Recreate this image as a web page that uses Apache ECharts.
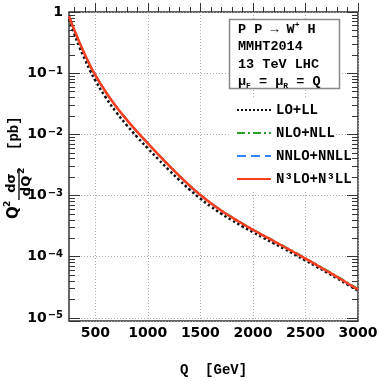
<!DOCTYPE html>
<html lang="en">
<head>
<meta charset="UTF-8">
<title>W+H invariant mass distribution</title>
<script src="https://cdn.jsdelivr.net/npm/echarts@6/dist/echarts.min.js"></script>
<style>
  html, body { margin: 0; padding: 0; background: #fff; }
  #main { width: 382px; height: 382px; }
</style>
</head>
<body>
<div id="main"></div>
<script>
// Q [GeV]
var qValues = [250, 300, 350, 400, 450, 500, 600, 700, 800, 900, 1000, 1100, 1200, 1300, 1400, 1500,
               1600, 1700, 1800, 1900, 2000, 2100, 2200, 2300, 2400, 2500, 2600, 2700, 2800, 2900, 3000];
// Q^2 dsigma/dQ^2 [pb]
var loLL = [0.758, 0.439, 0.266, 0.169, 0.111, 0.0762, 0.0401, 0.0230, 0.01412, 0.00901, 0.00590,
            0.00391, 0.00262, 0.001785, 0.001242, 0.000890, 6.59e-4, 5.04e-4, 3.95e-4, 3.13e-4, 2.52e-4,
            2.03e-4, 1.651e-4, 1.337e-4, 1.080e-4, 8.70e-5, 6.97e-5, 5.57e-5, 4.44e-5, 3.52e-5, 2.77e-5];
var nloNLL = [0.849, 0.509, 0.316, 0.203, 0.135, 0.0934, 0.0494, 0.0284, 0.01733, 0.01100, 0.00715,
              0.00470, 0.00313, 0.002112, 0.001455, 0.001032, 7.56e-4, 5.73e-4, 4.45e-4, 3.51e-4, 2.80e-4,
              2.25e-4, 1.82e-4, 1.468e-4, 1.182e-4, 9.49e-5, 7.58e-5, 6.03e-5, 4.79e-5, 3.78e-5, 2.97e-5];
var nnloNNLL = [0.852, 0.511, 0.316, 0.203, 0.135, 0.0932, 0.0492, 0.0283, 0.01725, 0.01093, 0.00710,
                0.00467, 0.00310, 0.002090, 0.001438, 0.001018, 7.45e-4, 5.64e-4, 4.37e-4, 3.45e-4, 2.75e-4,
                2.21e-4, 1.784e-4, 1.438e-4, 1.157e-4, 9.27e-5, 7.40e-5, 5.88e-5, 4.66e-5, 3.68e-5, 2.89e-5];
var n3loN3LL = [0.851, 0.510, 0.316, 0.203, 0.135, 0.0933, 0.0493, 0.0283, 0.01728, 0.01096, 0.00712,
                0.00468, 0.00311, 0.002097, 0.001443, 0.001022, 7.48e-4, 5.66e-4, 4.39e-4, 3.46e-4, 2.76e-4,
                2.215e-4, 1.789e-4, 1.442e-4, 1.160e-4, 9.30e-5, 7.42e-5, 5.90e-5, 4.68e-5, 3.69e-5, 2.90e-5];

var seriesNames = ['LO+LL', 'NLO+NLL', 'NNLO+NNLL', 'N³LO+N³LL'];
var xMajor = [500, 1000, 1500, 2000, 2500, 3000];
var xMinor = [300, 400, 600, 700, 800, 900, 1100, 1200, 1300, 1400, 1600, 1700, 1800, 1900,
              2100, 2200, 2300, 2400, 2600, 2700, 2800, 2900];
var yMinMult = [2, 3, 4, 5, 6, 7, 8, 9];
var yDecades = [-5, -4, -3, -2, -1];

var X_MIN = 250, X_MAX = 3000;
var Y_MIN = 0.89e-5, Y_MAX = 1;

function pairs(ys) {
  return qValues.map(function (q, i) { return [q, ys[i]]; });
}

// minor log ticks, placed on a helper axis that runs in log10 space
var yMinorLog = [];
yDecades.forEach(function (d) {
  yMinMult.forEach(function (m) { yMinorLog.push(Math.log10(m) + d); });
});

var tickColor = '#333';
var gridLine = { show: true, lineStyle: { color: '#aaa', type: [1, 2], width: 1 } };
var MONO = 'Liberation Mono';
var SANS = 'DejaVu Sans';

var myChart = echarts.init(document.getElementById('main'), null, { renderer: 'canvas' });

var supStyle = { fontFamily: SANS, fontWeight: 'bold', fontSize: 10, color: '#000', verticalAlign: 'top', padding: [0, 0, 0, 1] };

myChart.setOption({
  animation: false,
  backgroundColor: '#fff',
  grid: { left: 69, right: 24, top: 12, bottom: 58, show: true, borderColor: '#333', borderWidth: 1.5 },
  xAxis: [
    {
      type: 'value', min: X_MIN, max: X_MAX, position: 'bottom',
      name: 'Q  [GeV]', nameLocation: 'middle', nameGap: 42,
      nameTextStyle: { fontFamily: MONO, fontWeight: 'bold', fontSize: 14, color: '#000' },
      axisLine: { show: false },
      axisTick: { show: true, inside: true, length: 9, customValues: xMajor, lineStyle: { color: tickColor, width: 1 } },
      axisLabel: {
        customValues: xMajor, margin: 5, fontFamily: SANS, fontWeight: 'bold', fontSize: 14, color: '#000',
        formatter: function (v) { return String(v); }
      },
      splitLine: gridLine
    },
    {
      type: 'value', min: X_MIN, max: X_MAX, position: 'bottom',
      axisLine: { show: false }, axisLabel: { show: false }, splitLine: { show: false },
      axisTick: { show: true, inside: true, length: 5, customValues: xMinor, lineStyle: { color: tickColor, width: 1 } }
    }
  ],
  yAxis: [
    {
      type: 'log', logBase: 10, min: Y_MIN, max: Y_MAX, position: 'left',
      axisLine: { show: false },
      axisTick: { show: true, inside: true, length: 11, lineStyle: { color: tickColor, width: 1 } },
      axisLabel: {
        margin: 6,
        fontFamily: SANS, fontWeight: 'bold', fontSize: 14, color: '#000',
        formatter: function (v) {
          var e = Math.log10(v);
          var r = Math.round(e);
          if (Math.abs(e - r) > 1e-6) return '';
          if (r === 0) return '{b|1}';
          return '{b|10}{s|\u2212' + (-r) + '}';
        },
        rich: {
          b: { fontFamily: SANS, fontWeight: 'bold', fontSize: 14, color: '#000' },
          s: supStyle
        }
      },
      splitLine: gridLine
    },
    {
      type: 'log', logBase: 10, min: Y_MIN, max: Y_MAX, position: 'right',
      axisLine: { show: false }, axisLabel: { show: false }, splitLine: { show: false },
      axisTick: { show: true, inside: true, length: 11, lineStyle: { color: tickColor, width: 1 } }
    },
    {
      type: 'value', min: Math.log10(Y_MIN), max: 0, position: 'left',
      axisLine: { show: false }, axisLabel: { show: false }, splitLine: { show: false },
      axisTick: { show: true, inside: true, length: 6, customValues: yMinorLog, lineStyle: { color: tickColor, width: 1 } }
    },
    {
      type: 'value', min: Math.log10(Y_MIN), max: 0, position: 'right',
      axisLine: { show: false }, axisLabel: { show: false }, splitLine: { show: false },
      axisTick: { show: true, inside: true, length: 6, customValues: yMinorLog, lineStyle: { color: tickColor, width: 1 } }
    }
  ],
  legend: {
    orient: 'vertical', left: 236, top: 103, padding: 0,
    itemGap: 9, itemWidth: 34, itemHeight: 14, selectedMode: false,
    itemStyle: { opacity: 0 },
    textStyle: { fontFamily: MONO, fontWeight: 'bold', fontSize: 14, color: '#000' },
    data: seriesNames
  },
  graphic: [
    // white area behind the legend
    { type: 'rect', z: 3, shape: { x: 229, y: 99, width: 107, height: 91 }, style: { fill: '#fff' } },
    // info box
    { type: 'rect', z: 3, shape: { x: 229.5, y: 19.5, width: 110, height: 69 }, style: { fill: '#fff', stroke: '#888', lineWidth: 1.5 } },
    {
      type: 'text', z: 4, left: 238, top: 21,
      style: {
        text: '{a|P P \u2192 W}{p|+}{a| H}\n{a|MMHT2014}\n{a|13 TeV LHC}\n{a|\u03bc}{d|F}{a| = \u03bc}{d|R}{a| = Q}',
        rich: {
          a: { fontFamily: MONO, fontWeight: 'bold', fontSize: 13.5, fill: '#000', lineHeight: 17.3 },
          p: { fontFamily: MONO, fontWeight: 'bold', fontSize: 8, fill: '#000', verticalAlign: 'top', lineHeight: 17.3 },
          d: { fontFamily: MONO, fontWeight: 'bold', fontSize: 8, fill: '#000', verticalAlign: 'bottom', lineHeight: 17.3 }
        }
      }
    },
    // y-axis title
    {
      type: 'group', x: 19, y: 166, rotation: Math.PI / 2, z: 5,
      children: [
        { type: 'text', x: -53, y: -5, style: { text: 'Q', font: 'bold 15px "DejaVu Sans"', fill: '#000', align: 'left', verticalAlign: 'middle' } },
        { type: 'text', x: -41, y: -11, style: { text: '2', font: 'bold 9px "DejaVu Sans"', fill: '#000', align: 'left', verticalAlign: 'middle' } },
        { type: 'text', x: -17, y: -7, style: { text: 'd\u03c3', font: 'bold 13px "DejaVu Sans"', fill: '#000', align: 'center', verticalAlign: 'middle' } },
        { type: 'line', shape: { x1: -34, y1: 0, x2: -2, y2: 0 }, style: { stroke: '#000', lineWidth: 1.3 } },
        { type: 'text', x: -20, y: 8, style: { text: 'dQ', font: 'bold 13px "DejaVu Sans"', fill: '#000', align: 'center', verticalAlign: 'middle' } },
        { type: 'text', x: -8, y: 3, style: { text: '2', font: 'bold 9px "DejaVu Sans"', fill: '#000', align: 'left', verticalAlign: 'middle' } },
        { type: 'text', x: 16, y: -5, style: { text: '[pb]', font: 'bold 14px "Liberation Mono"', fill: '#000', align: 'left', verticalAlign: 'middle' } }
      ]
    }
  ],
  series: [
    {
      name: seriesNames[0], type: 'line', data: pairs(loLL), showSymbol: false, symbol: 'none', smooth: true,
      lineStyle: { color: '#111', width: 2.5, type: 'dotted' }, itemStyle: { color: '#111' }
    },
    {
      name: seriesNames[1], type: 'line', data: pairs(nloNLL), showSymbol: false, symbol: 'none', smooth: true,
      lineStyle: { color: '#2ca02c', width: 2, type: [8, 3, 2, 3] }, itemStyle: { color: '#2ca02c' }
    },
    {
      name: seriesNames[2], type: 'line', data: pairs(nnloNNLL), showSymbol: false, symbol: 'none', smooth: true,
      lineStyle: { color: '#2f86ff', width: 2, type: [9, 5] }, itemStyle: { color: '#2f86ff' }
    },
    {
      name: seriesNames[3], type: 'line', data: pairs(n3loN3LL), showSymbol: false, symbol: 'none', smooth: true,
      lineStyle: { color: '#ff3d1f', width: 2.5 }, itemStyle: { color: '#ff3d1f' }
    }
  ]
});
</script>
</body>
</html>
